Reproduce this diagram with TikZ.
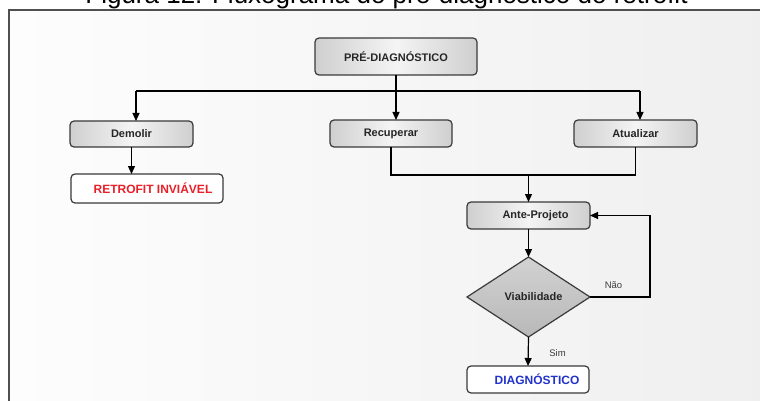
\documentclass[tikz,border=0pt]{standalone}
\usepackage{fontspec}
\setmainfont{Liberation Sans}
\usetikzlibrary{shapes.geometric,arrows.meta}
\definecolor{frameline}{HTML}{505050}
\definecolor{boxline}{HTML}{3A3A3A}
\definecolor{boxlight}{HTML}{F4F4F4}
\definecolor{boxdark}{HTML}{CFCFCF}
\definecolor{diatop}{HTML}{D2D2D2}
\definecolor{diabot}{HTML}{B8B8B8}
\definecolor{bglight}{HTML}{FDFDFD}
\definecolor{bgdark}{HTML}{EFEFEF}
\definecolor{txtred}{HTML}{E8202A}
\definecolor{txtblue}{HTML}{2233CC}
\definecolor{labgray}{HTML}{3C3C3C}
\tikzset{
  procbox/.style={draw=boxline, line width=1.2pt, rounded corners=4pt,
    left color=boxdark, right color=boxdark, middle color=boxlight,
    inner sep=0pt, outer sep=0pt, text=black!85,
    font=\fontsize{11}{13}\selectfont\bfseries},
  endbox/.style={draw=boxline, line width=1.2pt, rounded corners=4pt, fill=white,
    inner sep=0pt, outer sep=0pt, font=\fontsize{12}{14}\selectfont\bfseries},
  decbox/.style={diamond, draw=boxline, line width=1.2pt, top color=diatop, bottom color=diabot,
    inner sep=0pt, outer sep=0pt, minimum width=123pt, minimum height=80pt,
    text=black!85, font=\fontsize{11}{13}\selectfont\bfseries},
  flow/.style={draw=black, line width=1.2pt},
  arrow/.style={flow, -{Triangle[length=8pt,width=7pt]}},
  edgelab/.style={text=labgray, font=\fontsize{9.5}{11}\selectfont, inner sep=0pt}
}
\begin{document}
\begin{tikzpicture}[x=1pt,y=-1pt]
\useasboundingbox (0,0) rectangle (760,401);
% caption (cut off at the top)
\node[anchor=base, inner sep=0pt, font=\fontsize{26}{30}\selectfont] (cap) at (386.5,3.5) {Figura 12: Fluxograma do pré-diagnóstico do retrofit};
% frame
\shade[left color=bglight, right color=bgdark] (9,10) rectangle (780,420);
\draw[frameline, line width=1.6pt] (9,420) -- (9,10) -- (780,10);
% nodes
\node[procbox, minimum width=162pt, minimum height=37pt] (pre) at (396,56.5) {PRÉ-DIAGNÓSTICO};
\node[procbox, minimum width=123pt, minimum height=26pt] (dem) at (131.5,134) {Demolir};
\node[procbox, minimum width=122pt, minimum height=27pt] (rec) at (391,133.5) {Recuperar};
\node[procbox, minimum width=123pt, minimum height=27pt] (atu) at (635.5,133.5) {Atualizar};
\node[endbox, minimum width=152pt, minimum height=29pt, text=txtred] (ret) at (147,188.5) {\hspace*{12pt}RETROFIT INVIÁVEL};
\node[procbox, minimum width=123pt, minimum height=27pt] (ant) at (528.5,215.5) {\hspace*{14pt}Ante-Projeto};
\node[decbox] (via) at (528.5,297) {\hspace*{10pt}Viabilidade};
\node[endbox, minimum width=122pt, minimum height=27pt, text=txtblue] (dia) at (528,379.5) {\hspace*{18pt}DIAGNÓSTICO};
% junction points
\coordinate (jl) at (136,91);
\coordinate (jr) at (640,91);
\coordinate (jb) at (528.5,175);
% connectors
\draw[arrow] (pre.south) -- (pre.south |- rec.north);
\draw[flow] (jl) -- (jr);
\draw[arrow] (jl) -- (jl |- dem.north);
\draw[arrow] (jr) -- (jr |- atu.north);
\draw[arrow] (dem.south) -- (dem.south |- ret.north);
\draw[flow] (rec.south) |- (jb) -| (atu.south);
\draw[arrow] (jb) -- (ant.north);
\draw[arrow] (ant.south) -- (via.north);
\draw[arrow] (via.east) -- ++(60,0) |- (ant.east);
\draw[arrow] (via.south) -- (dia.north);
% labels
\node[edgelab] (nao) at (613.5,285.5) {Não};
\node[edgelab] (sim) at (557.5,353) {Sim};
\end{tikzpicture}
\end{document}
